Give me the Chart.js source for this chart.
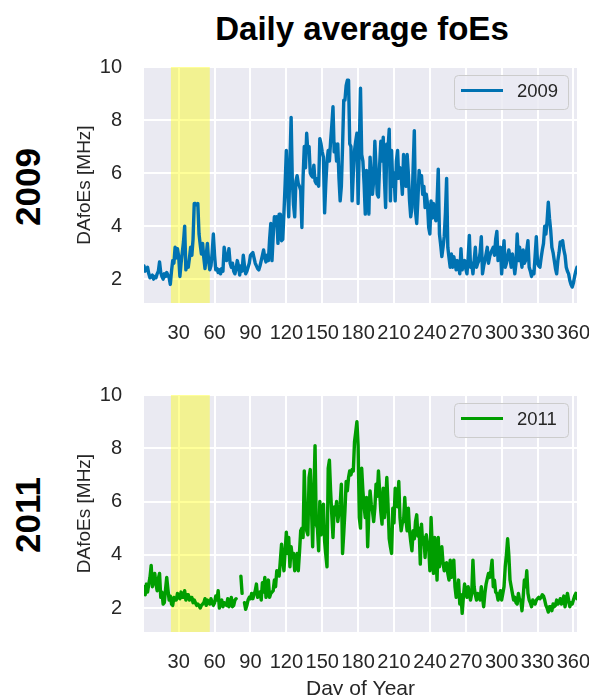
<!DOCTYPE html>
<html><head><meta charset="utf-8">
<script src="https://cdn.jsdelivr.net/npm/chart.js@4.4.1/dist/chart.umd.min.js"></script>
<style>
html,body{margin:0;padding:0;background:#fff;overflow:hidden;width:589px;height:695px;}
#wrap{position:relative;width:589px;height:695px;overflow:hidden;font-family:"Liberation Sans",Arial,sans-serif;}
canvas{position:absolute;left:0;}
#title{position:absolute;left:112px;width:500px;top:12px;text-align:center;font-weight:bold;font-size:33px;line-height:1;color:#000;}
.row{position:absolute;width:200px;height:40px;line-height:40px;text-align:center;font-weight:bold;font-size:35px;color:#000;transform:rotate(-90deg);}
</style></head>
<body><div id="wrap">
<div id="title">Daily average foEs</div>
<div class="row" style="left:-72px;top:167px;">2009</div>
<div class="row" style="left:-72px;top:495px;">2011</div>
<canvas id="c1" width="589" height="320" style="top:40px"></canvas>
<canvas id="c2" width="589" height="345" style="top:360px"></canvas>
</div>
<script>
const xTicks = [30, 60, 90, 120, 150, 180, 210, 240, 270, 300, 330, 360];
const yTicks = [2, 4, 6, 8, 10];
const band = [23.5, 56];
const labels = ['2009', '2011'];

const vals2009 = [
2.5, 2.3, 2.35, 2.45, 2.2, 2.05, 2.1, 2.15, 2.0, 2.1,
2.05, 2.2, 2.3, 2.65, 2.25, 2.1, 2.0, 2.2, 2.1, 2.25,
2.15, 2.05, 1.8, 2.3, 2.7, 2.6, 3.2, 2.8, 3.15, 2.85,
2.1, 2.6, 3.0, 3.4, 4.0, 2.35, 2.6, 2.45, 2.8, 3.2,
2.9, 3.5, 4.85, 4.85, 4.8, 4.85, 3.7, 3.3, 2.95, 3.35,
2.8, 2.4, 2.9, 3.35, 2.7, 2.35, 2.5, 3.0, 3.7, 2.9,
2.35, 2.4, 2.25, 2.35, 2.2, 2.4, 2.3, 3.2, 2.9, 2.7,
2.8, 3.15, 2.6, 2.45, 2.6, 2.3, 2.2, 2.4, 2.7, 2.5,
2.15, 2.5, 2.3, 2.9, 2.5, 2.2, 2.3, 2.45, 2.6, 2.9,
2.95, 3.0, 2.8, 2.6, 2.5, 2.4, 2.35, 2.5, 2.7, 2.9,
3.1, 2.8, 2.65, 2.9, 2.7, 3.5, 4.1, 2.7, 3.6, 4.35,
4.2, 4.35, 3.35, 4.45, 4.45, 3.45, 3.5, 4.5, 5.6, 6.85,
5.5, 4.35, 6.4, 8.1, 5.7, 4.8, 4.35, 5.7, 5.9, 5.6,
5.5, 5.35, 3.95, 5.85, 7.0, 6.2, 7.5, 6.8, 7.0, 6.0,
5.9, 5.85, 6.3, 5.7, 5.6, 5.8, 5.5, 7.3, 7.1, 6.8,
6.6, 4.5, 5.6, 6.45, 6.85, 6.45, 7.2, 7.8, 8.5, 6.8,
7.1, 6.45, 7.1, 5.8, 4.95, 5.5, 7.0, 8.75, 8.75, 9.3,
9.5, 9.5, 7.1, 7.0, 4.95, 6.0, 6.85, 7.2, 7.5, 4.85,
7.0, 9.2, 6.7, 6.45, 5.6, 4.45, 6.1, 5.3, 4.45, 6.6,
5.8, 5.2, 5.7, 7.2, 6.2, 5.2, 5.1, 6.3, 7.2, 6.45,
7.35, 5.8, 4.7, 7.1, 6.9, 7.65, 4.95, 6.85, 5.5, 6.0,
4.95, 6.45, 6.85, 5.8, 6.2, 5.9, 5.2, 6.7, 6.1, 5.5,
6.7, 6.0, 4.95, 4.35, 4.7, 6.2, 7.6, 4.55, 4.1, 5.0,
6.1, 5.7, 5.9, 5.2, 5.5, 4.7, 5.2, 4.85, 3.95, 3.7,
4.95, 4.3, 4.85, 4.5, 4.2, 4.9, 6.15, 3.7, 3.3, 2.85,
3.2, 3.6, 4.5, 5.8, 3.2, 2.8, 2.45, 2.95, 2.45, 2.85,
2.6, 2.35, 2.7, 2.5, 2.2, 3.15, 2.35, 2.6, 2.7, 2.4,
2.2, 2.8, 3.65, 2.45, 2.6, 2.2, 2.7, 3.2, 2.45, 2.6,
2.7, 3.0, 3.6, 2.2, 2.5, 2.7, 2.95, 3.2, 2.6, 2.85,
3.0, 3.1, 3.2, 2.9, 3.5, 3.8, 2.7, 3.0, 3.2, 2.2,
2.8, 3.45, 2.45, 2.6, 2.85, 3.1, 2.8, 2.45, 2.95, 2.6,
2.2, 2.6, 3.7, 2.7, 3.2, 2.8, 2.45, 3.1, 2.6, 2.7,
3.1, 3.45, 2.45, 2.3, 2.1, 2.3, 2.2, 2.9, 3.6, 2.6,
2.5, 2.45, 2.8, 3.1, 3.35, 4.0, 3.7, 4.2, 4.9, 4.3,
3.85, 3.2, 3.0, 2.7, 2.4, 2.2, 2.7, 3.0, 3.4, 3.3,
3.45, 3.1, 2.9, 2.45, 2.3, 2.2, 1.95, 1.8, 1.7, 1.85,
2.1, 2.3, 2.45
];

const vals2011 = [
2.8, 2.5, 2.9, 2.6, 2.9, 3.15, 3.6, 2.8, 3.0, 3.3,
2.9, 2.65, 3.1, 3.3, 2.4, 2.6, 2.15, 2.2, 2.7, 3.15,
2.7, 2.3, 2.45, 2.15, 2.1, 2.4, 2.3, 2.3, 2.55, 2.4,
2.35, 2.6, 2.4, 2.4, 2.65, 2.3, 2.5, 2.5, 2.3, 2.4,
2.4, 2.2, 2.3, 2.2, 2.1, 2.15, 2.1, 2.0, 2.1, 2.15,
2.2, 2.35, 2.1, 2.3, 2.2, 2.15, 2.35, 2.2, 2.1, 2.2,
2.45, 2.3, 2.65, 2.0, 2.2, 2.3, 2.05, 2.2, 2.15, 2.1,
2.35, 2.05, 2.2, 2.4, 2.05, 2.1, 2.3, 2.35, null, null,
null, 3.2, 2.55, null, 2.2, 1.95, 2.1, 2.3, 2.4, 2.35,
2.55, 2.35, 2.5, 2.65, 2.9, 2.4, 2.5, 2.6, 2.3, 2.95,
2.6, 3.15, 2.4, 2.7, 3.05, 2.4, 2.55, 2.6, 2.65, 3.05,
2.8, 3.4, 3.3, 3.2, 3.8, 4.4, 3.8, 3.4, 4.15, 4.85,
4.05, 4.65, 3.55, 4.3, 3.9, 4.05, 3.4, 3.7, 4.05, 3.4,
4.1, 4.9, 5.0, 4.65, 7.15, 5.5, 4.9, 4.75, 6.9, 7.2,
5.8, 4.3, 6.25, 8.1, 5.15, 5.0, 4.15, 6.0, 4.75, 5.3,
5.9, 4.5, 4.0, 3.55, 7.25, 7.55, 6.4, 5.5, 4.65, 5.8,
5.5, 6.0, 5.25, 5.6, 5.9, 6.65, 4.05, 4.8, 5.65, 6.75,
6.4, 6.9, 7.15, 7.0, 7.2, 7.15, 8.25, 8.6, 9.0, 8.1,
5.4, 5.0, 7.25, 6.4, 5.8, 5.4, 6.15, 4.3, 5.6, 6.4,
5.9, 5.65, 5.25, 5.75, 6.65, 6.2, 7.15, 6.4, 5.6, 5.15,
6.5, 5.4, 5.9, 6.9, 5.9, 4.6, 4.3, 4.05, 5.75, 5.2,
6.5, 6.15, 5.8, 6.75, 5.4, 4.9, 5.2, 5.25, 6.15, 5.3,
4.9, 5.75, 4.9, 4.5, 4.15, 4.9, 4.6, 5.25, 5.5, 4.7,
5.0, 3.65, 5.15, 4.4, 4.65, 3.9, 4.75, 4.4, 4.3, 3.4,
5.4, 4.3, 3.3, 4.65, 4.0, 3.05, 4.65, 3.55, 3.9, 4.3,
3.7, 3.4, 3.6, 3.7, 3.3, 3.05, 3.8, 3.15, 3.5, 3.8,
2.8, 2.4, 2.7, 3.05, 2.15, 2.5, 1.8, 2.4, 2.9, 2.6,
2.4, 2.8, 2.5, 2.3, 2.55, 3.8, 2.8, 2.5, 2.3, 2.55,
2.4, 2.3, 2.8, 2.4, 2.05, 2.55, 2.9, 3.1, 3.3, 3.15,
3.4, 3.8, 2.8, 3.05, 2.6, 2.55, 2.3, 2.5, 2.65, 2.3,
2.55, 2.8, 3.55, 4.0, 4.6, 4.0, 3.05, 2.8, 2.55, 2.3,
2.4, 2.2, 2.15, 2.55, 2.3, 2.3, 1.9, 2.4, 3.05, 2.8,
3.4, 2.55, 2.3, 2.2, 2.05, 2.3, 2.2, 2.15, 2.3, 2.35,
2.4, 2.35, 2.4, 2.5, 2.45, 2.3, 2.1, 2.0, 1.85, 2.05,
2.05, 1.9, 2.15, 2.05, 2.1, 2.3, 2.15, 2.2, 2.35, 2.15,
2.3, 2.45, 2.05, 2.3, 2.55, 2.3, 2.05, 2.2, 2.15, 2.3,
2.45, 2.55, 2.35
];

const FONT = '"Liberation Sans", Arial, Helvetica, sans-serif';
const TXT = '#262626';
Chart.defaults.font.family = FONT;

const panelPlugin = {
  id: 'panel',
  beforeDraw(chart) {
    const {ctx, chartArea: a} = chart;
    ctx.save();
    ctx.fillStyle = '#EAEAF2';
    ctx.fillRect(a.left, a.top, a.right - a.left, a.bottom - a.top);
    ctx.restore();
  },
  beforeDatasetsDraw(chart) {
    const {ctx, chartArea: a, scales: {x}} = chart;
    const x0 = x.getPixelForValue(band[0]);
    const x1 = x.getPixelForValue(band[1]);
    ctx.save();
    ctx.fillStyle = 'rgba(255,255,0,0.4)';
    ctx.fillRect(x0, a.top, x1 - x0, a.bottom - a.top);
    ctx.restore();
  },
  afterDatasetsDraw(chart) {
    const ds = chart.data.datasets[0];
    const {ctx, chartArea: a} = chart;
    const w = 114, h = 34;
    const bx = Math.round(a.right - 9 - w), by = Math.round(a.top + 8);
    ctx.save();
    ctx.beginPath();
    ctx.roundRect(bx + 0.5, by + 0.5, w, h, 4);
    ctx.fillStyle = 'rgba(234,234,242,0.8)';
    ctx.fill();
    ctx.strokeStyle = '#CCCCCC';
    ctx.lineWidth = 1;
    ctx.stroke();
    const cy = by + h / 2;
    ctx.beginPath();
    ctx.moveTo(bx + 7, cy - 1.5);
    ctx.lineTo(bx + 49, cy - 1.5);
    ctx.strokeStyle = ds.borderColor;
    ctx.lineWidth = 3.2;
    ctx.stroke();
    ctx.fillStyle = TXT;
    ctx.font = '18.5px ' + FONT;
    ctx.textBaseline = 'middle';
    ctx.textAlign = 'left';
    ctx.fillText(ds.label, bx + 63, cy - 0.5);
    ctx.restore();
  }
};

function makeChart(id, label, values, color, xHeight, xTitle, padTop) {
  const days = values.map((_, i) => i + 1);
  const pts = values.map((v, i) => ({x: days[i], y: v}));
  return new Chart(document.getElementById(id), {
    type: 'line',
    data: {datasets: [{
      label: label, data: pts, borderColor: color, backgroundColor: color,
      borderWidth: 3.4, pointRadius: 0, tension: 0, spanGaps: false,
      borderJoinStyle: 'round', borderCapStyle: 'round'
    }]},
    options: {
      responsive: false, animation: false, devicePixelRatio: 1,
      layout: {padding: {left: 73, right: 12, top: padTop, bottom: 0}},
      plugins: {legend: {display: false}, tooltip: {enabled: false}},
      scales: {
        x: {
          type: 'linear', min: 1, max: 363,
          grid: {color: '#FFFFFF', lineWidth: 2, drawTicks: false},
          border: {display: false},
          ticks: {font: {size: 20}, color: TXT, padding: 18, maxRotation: 0, autoSkip: false},
          afterBuildTicks: s => { s.ticks = xTicks.map(v => ({value: v})); },
          afterFit: s => { s.height = xHeight; s.paddingLeft = 0; s.paddingRight = 0; },
          title: xTitle ? {display: true, text: xTitle, color: TXT, font: {size: 21}, padding: {top: 0, bottom: 3}} : {display: false}
        },
        y: {
          type: 'linear', min: 1.1, max: 10,
          grid: {color: '#FFFFFF', lineWidth: 2, drawTicks: false},
          border: {display: false},
          ticks: {font: {size: 20}, color: TXT, padding: 22, autoSkip: false},
          afterBuildTicks: s => { s.ticks = yTicks.map(v => ({value: v})); },
          afterFit: s => { s.width = 71; s.paddingTop = 0; s.paddingBottom = 0; },
          title: {display: true, text: 'DAfoEs [MHz]', color: TXT, font: {size: 19}, padding: {top: 0, bottom: 0}}
        }
      }
    },
    plugins: [panelPlugin]
  });
}

makeChart('c1', labels[0], vals2009, '#0072B2', 57, null, 27);
makeChart('c2', labels[1], vals2011, '#009E00', 73, 'Day of Year', 35);
</script>
</body></html>
